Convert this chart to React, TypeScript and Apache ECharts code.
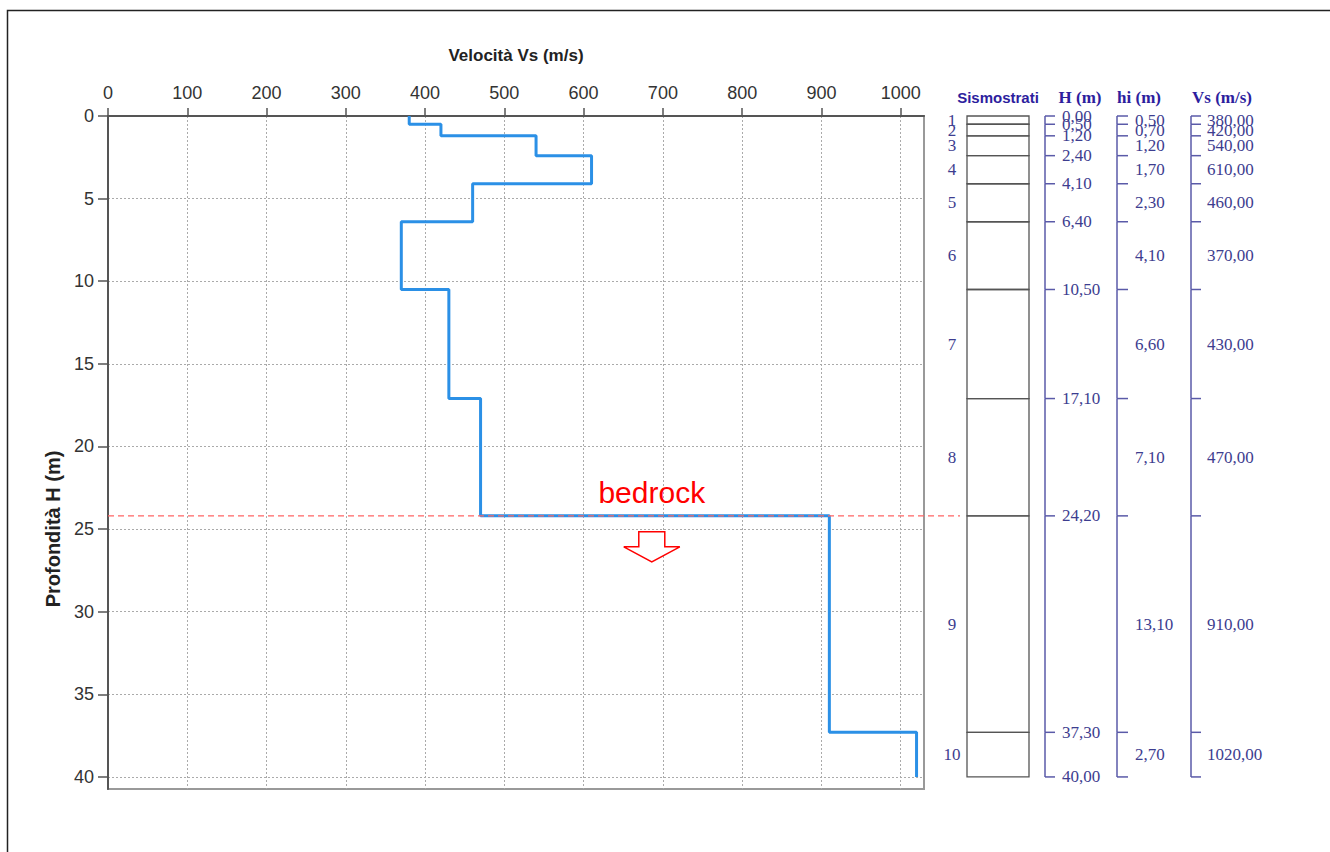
import React, { useEffect, useRef } from "react";
import * as echarts from "echarts";

// ---- data ----
const layerNo = [1, 2, 3, 4, 5, 6, 7, 8, 9, 10];
const layerTop = [0, 0.5, 1.2, 2.4, 4.1, 6.4, 10.5, 17.1, 24.2, 37.3];
const layerThick = [0.5, 0.7, 1.2, 1.7, 2.3, 4.1, 6.6, 7.1, 13.1, 2.7];
const layerVs = [380, 420, 540, 610, 460, 370, 430, 470, 910, 1020];
const xTicks = [0, 100, 200, 300, 400, 500, 600, 700, 800, 900, 1000];
const yTicks = [0, 5, 10, 15, 20, 25, 30, 35, 40];
const bedrockDepth = 24.2;
const bedrockMark = [[686, bedrockDepth]];

const X_MAX = 1029.4;
const Y_MAX = 40.73;

const NARROW = "'Liberation Sans Narrow', 'Liberation Sans', Arial, sans-serif";
const SANS = "'Liberation Sans', Arial, sans-serif";
const SERIF = "'Liberation Serif', 'DejaVu Serif', serif";
const TBL = "#3d3d8f";
const TBL_LINE = "#5a5aa8";

const fmt = (v: number) => v.toFixed(2).replace(".", ",");

export default function App() {
  const ref = useRef<HTMLDivElement>(null);
  useEffect(() => {
    if (!ref.current) return;
    const chart = echarts.init(ref.current, undefined, { renderer: "svg" });

    const stepData: number[][] = [];
    layerVs.forEach((v, i) => {
      stepData.push([v, layerTop[i]]);
      stepData.push([v, layerTop[i] + layerThick[i]]);
    });
    const tableData = layerNo.map((n, i) => [
      n,
      layerTop[i],
      +(layerTop[i] + layerThick[i]).toFixed(2),
      layerThick[i],
      layerVs[i],
    ]);

    const option: any = {
      animation: false,
      backgroundColor: "#fff",
      grid: [
        { left: 108, top: 116, width: 816, height: 673, show: true, borderColor: "#999", borderWidth: 2, backgroundColor: "transparent" },
        { left: 108, top: 116, width: 852, height: 673 },
        { left: 930, top: 116, width: 330, height: 673 },
      ],
      xAxis: [
        {
          gridIndex: 0,
          type: "value",
          position: "top",
          min: 0,
          max: X_MAX,
          interval: 100,
          name: "Velocità Vs (m/s)",
          nameLocation: "middle",
          nameGap: 52,
          nameTextStyle: { fontFamily: NARROW, fontWeight: "bold", fontSize: 17, color: "#222" },
          axisLine: { show: true, lineStyle: { color: "#555", width: 2 } },
          axisTick: { show: true, length: 8, lineStyle: { color: "#555", width: 1.5 }, customValues: xTicks },
          axisLabel: {
            color: "#333",
            fontSize: 18,
            fontFamily: NARROW,
            margin: 14,
            customValues: xTicks,
            formatter: (v: number) => String(v),
          },
          splitLine: { show: true, lineStyle: { color: "#aaa", type: [2, 2], width: 1 } },
        },
        { gridIndex: 1, type: "value", min: 0, max: 1, show: false },
        { gridIndex: 2, type: "value", min: 0, max: 330, show: false },
      ],
      yAxis: [
        {
          gridIndex: 0,
          type: "value",
          inverse: true,
          min: 0,
          max: Y_MAX,
          interval: 5,
          axisLine: { show: true, lineStyle: { color: "#555", width: 2 } },
          axisTick: { show: true, length: 10, lineStyle: { color: "#555", width: 1.5 }, customValues: yTicks },
          axisLabel: {
            color: "#333",
            fontSize: 18,
            fontFamily: NARROW,
            margin: 14,
            customValues: yTicks,
            formatter: (v: number) => String(v),
          },
          splitLine: { show: true, lineStyle: { color: "#aaa", type: [2, 2], width: 1 } },
        },
        { gridIndex: 1, type: "value", inverse: true, min: 0, max: Y_MAX, show: false },
        { gridIndex: 2, type: "value", inverse: true, min: 0, max: Y_MAX, show: false },
      ],
      graphic: [
        {
          type: "polyline",
          shape: { points: [[7.5, 852], [7.5, 10.5], [1330, 10.5]] },
          style: { stroke: "#222", lineWidth: 1.5, fill: "none" },
        },
        {
          type: "text",
          x: 53,
          y: 529,
          rotation: Math.PI / 2,
          style: { text: "Profondità H (m)", fill: "#222", font: `bold 20px ${SANS}`, align: "center", verticalAlign: "middle" },
        },
        { type: "text", x: 998, y: 97, style: { text: "Sismostrati", fill: "#2d1e9e", font: `bold 15px ${SANS}`, align: "center", verticalAlign: "middle" } },
        { type: "text", x: 1080, y: 97, style: { text: "H (m)", fill: "#2d1e9e", font: `bold 17px ${SERIF}`, align: "center", verticalAlign: "middle" } },
        { type: "text", x: 1139, y: 97, style: { text: "hi (m)", fill: "#2d1e9e", font: `bold 17px ${SERIF}`, align: "center", verticalAlign: "middle" } },
        { type: "text", x: 1222, y: 97, style: { text: "Vs (m/s)", fill: "#2d1e9e", font: `bold 17px ${SERIF}`, align: "center", verticalAlign: "middle" } },
      ],
      series: [
        {
          type: "line",
          xAxisIndex: 0,
          yAxisIndex: 0,
          data: stepData,
          symbol: "none",
          lineStyle: { color: "#2b90e6", width: 3 },
          z: 3,
        },
        {
          type: "line",
          xAxisIndex: 1,
          yAxisIndex: 1,
          data: [[0, bedrockDepth], [1, bedrockDepth]],
          symbol: "none",
          lineStyle: { color: "#ff6464", width: 1.2, type: [6, 4] },
          z: 5,
        },
        {
          type: "custom",
          xAxisIndex: 0,
          yAxisIndex: 0,
          data: bedrockMark,
          z: 6,
          renderItem: (params: any, api: any) => {
            const p = api.coord([api.value(0), api.value(1)]);
            const cx = p[0];
            const cy = p[1];
            const pts = [
              [-13, 0], [13, 0], [13, 15], [28, 15], [0, 30], [-28, 15], [-13, 15],
            ].map(([dx, dy]) => [cx + dx, cy + 16 + dy]);
            return {
              type: "group",
              children: [
                {
                  type: "text",
                  x: cx,
                  y: cy - 23,
                  style: { text: "bedrock", fill: "#ff0000", font: `30px ${SANS}`, align: "center", verticalAlign: "middle" },
                },
                {
                  type: "polygon",
                  shape: { points: pts },
                  style: { fill: "#fff", stroke: "#ff0000", lineWidth: 1.5 },
                },
              ],
            };
          },
        },
        {
          type: "custom",
          xAxisIndex: 2,
          yAxisIndex: 2,
          data: tableData,
          clip: false,
          renderItem: (params: any, api: any) => {
            const n = api.value(0);
            const top = api.value(1);
            const bot = api.value(2);
            const hi = api.value(3);
            const vs = api.value(4);
            const x0 = params.coordSys.x;
            const y0 = api.coord([0, top])[1];
            const y1 = api.coord([0, bot])[1];
            const ym = (y0 + y1) / 2;
            const last = params.dataIndex === layerNo.length - 1;
            const lineSt = { stroke: TBL_LINE, lineWidth: 1.5 };
            const txt = (x: number, y: number, t: string, align = "left", weight = "normal") => ({
              type: "text",
              x,
              y,
              style: { text: t, fill: TBL, font: `${weight} 17px ${SERIF}`, align, verticalAlign: "middle" },
            });
            const children: any[] = [
              {
                type: "rect",
                shape: { x: x0 + 37, y: y0, width: 62, height: y1 - y0 },
                style: { fill: "none", stroke: "#555", lineWidth: 1.3 },
              },
              txt(x0 + 22, ym, String(n), "center"),
              // H bracket
              { type: "line", shape: { x1: x0 + 115, y1: y0, x2: x0 + 115, y2: y1 }, style: lineSt },
              { type: "line", shape: { x1: x0 + 115, y1: y0, x2: x0 + 125, y2: y0 }, style: lineSt },
              txt(x0 + 132, y0, fmt(top)),
              // hi bracket
              { type: "line", shape: { x1: x0 + 187, y1: y0, x2: x0 + 187, y2: y1 }, style: lineSt },
              { type: "line", shape: { x1: x0 + 187, y1: y0, x2: x0 + 198, y2: y0 }, style: lineSt },
              txt(x0 + 205, ym, fmt(hi)),
              // Vs bracket
              { type: "line", shape: { x1: x0 + 261, y1: y0, x2: x0 + 261, y2: y1 }, style: lineSt },
              { type: "line", shape: { x1: x0 + 261, y1: y0, x2: x0 + 271, y2: y0 }, style: lineSt },
              txt(x0 + 277, ym, fmt(vs)),
            ];
            if (last) {
              children.push(
                { type: "line", shape: { x1: x0 + 115, y1: y1, x2: x0 + 125, y2: y1 }, style: lineSt },
                txt(x0 + 132, y1, fmt(bot)),
                { type: "line", shape: { x1: x0 + 187, y1: y1, x2: x0 + 198, y2: y1 }, style: lineSt },
                { type: "line", shape: { x1: x0 + 261, y1: y1, x2: x0 + 271, y2: y1 }, style: lineSt }
              );
            }
            return { type: "group", children };
          },
        },
      ],
    };
    chart.setOption(option);
    return () => chart.dispose();
  }, []);
  return (
    <div
      ref={ref}
      style={{ position: "absolute", left: 0, top: 0, width: 1330, height: 852, background: "#fff" }}
    />
  );
}
